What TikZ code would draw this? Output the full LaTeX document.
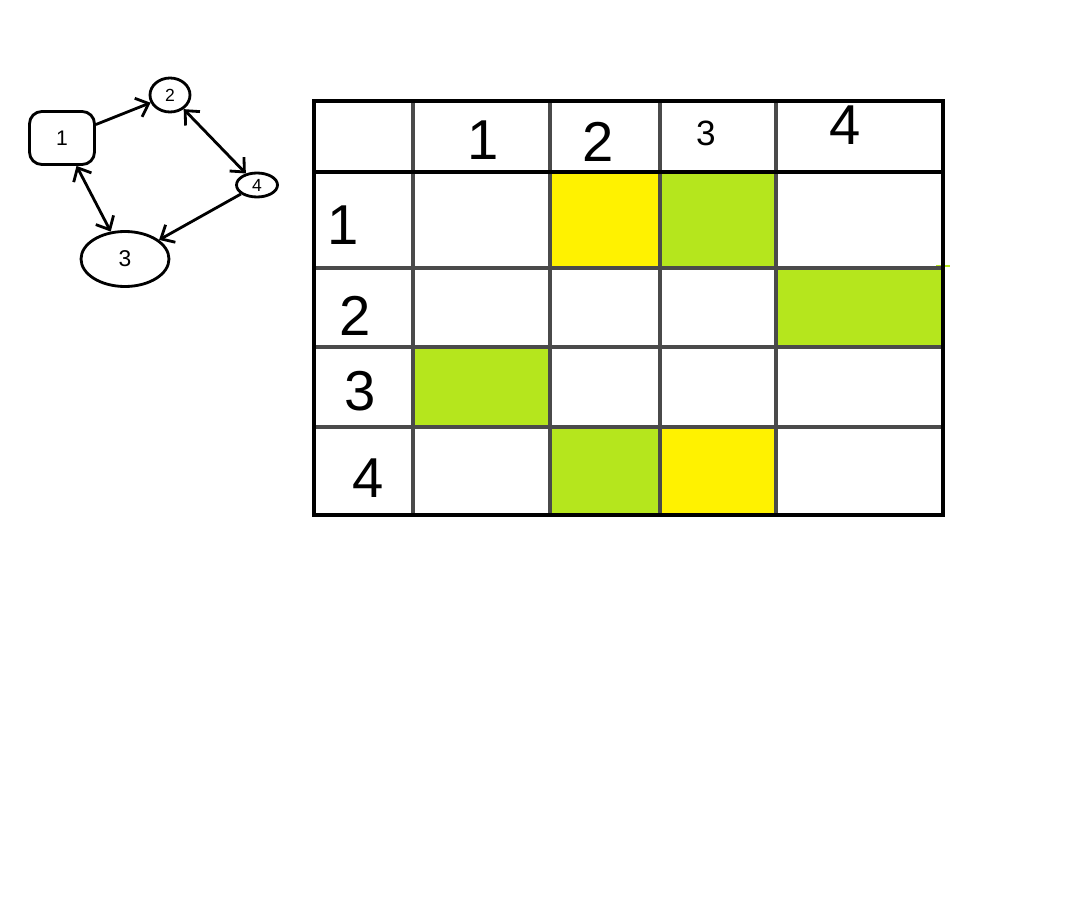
\documentclass[tikz,border=0pt]{standalone}
\usepackage{fontspec}
\setmainfont{Liberation Sans}
\usetikzlibrary{shapes.geometric, arrows.meta}
\definecolor{paintyellow}{HTML}{FFF200}
\definecolor{paintgreen}{HTML}{B5E61D}
\definecolor{gridgray}{HTML}{4A4A4A}
\tikzset{
  vertex/.style={draw, ellipse, line width=1.6pt, inner sep=0pt,
                 font=\fontsize{10}{12}\selectfont},
  boxvertex/.style={vertex, rectangle, rounded corners=7pt},
  edge/.style={->, line width=1.6pt},
  gridline/.style={draw=gridgray, line width=1.8pt},
  frame/.style={draw=black, line width=2.4pt},
  label/.style={inner sep=0pt, font=\fontsize{32}{36}\selectfont},
  smalllabel/.style={label, font=\fontsize{20}{24}\selectfont},
}

\begin{document}
\begin{tikzpicture}[x=0.02cm, y=-0.02cm, >={Straight Barb[length=2.2mm, width=4mm]}]
    \useasboundingbox (0,0) rectangle (1070,898);

    % graph
    \node[boxvertex, minimum width=1.3cm, minimum height=1.06cm, font=\fontsize{12}{14}\selectfont] (n1) at (62,138) {1};
    \node[vertex, minimum width=0.8cm, minimum height=0.68cm] (n2) at (170,95) {2};
    \node[vertex, minimum width=0.82cm, minimum height=0.48cm] (n4) at (257,185) {4};
    \node[vertex, minimum width=1.76cm, minimum height=1.1cm, font=\fontsize{13}{15}\selectfont] (n3) at (125,259) {3};
    \draw[edge] (n1) -- (n2);
    \draw[edge, <->] (n2) -- (n4);
    \draw[edge, <->] (n1) -- (n3);
    \draw[edge] (n4) -- (n3);

    % matrix cells
    \fill[paintyellow] (550,172) rectangle (660,268);
    \fill[paintgreen] (660,172) rectangle (776,268);
    \fill[paintgreen] (776,268) rectangle (943,347);
    \fill[paintgreen] (413,347) rectangle (550,427);
    \fill[paintgreen] (550,427) rectangle (660,515);
    \fill[paintyellow] (660,427) rectangle (776,515);
    \draw[paintgreen, line width=1.4pt] (936,266) -- (950,266);

    % grid
    \draw[gridline] (413,101) -- (413,515);
    \draw[gridline] (550,101) -- (550,515);
    \draw[gridline] (660,101) -- (660,515);
    \draw[gridline] (776,101) -- (776,515);
    \draw[gridline] (314,268) -- (943,268);
    \draw[gridline] (314,347) -- (943,347);
    \draw[gridline] (314,427) -- (943,427);
    \draw[frame] (314,172) -- (943,172);
    \draw[frame] (314,101) rectangle (943,515);

    % headers
    \node[label] (h1) at (483,140) {1};
    \node[label] (h2) at (598,142) {2};
    \node[smalllabel] (h3) at (706,133) {3};
    \node[label] (h4) at (845,125) {4};
    \node[label] (r1) at (343,225) {1};
    \node[label] (r2) at (355,316) {2};
    \node[label] (r3) at (360,391) {3};
    \node[label] (r4) at (368,478) {4};
\end{tikzpicture}
\end{document}
